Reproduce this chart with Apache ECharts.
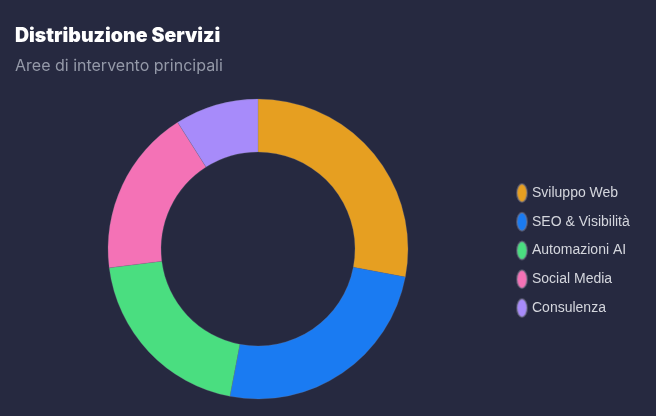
<!DOCTYPE html>
<html>
<head>
<meta charset="utf-8">
<script src="https://cdn.jsdelivr.net/npm/echarts@6/dist/echarts.min.js"></script>
<style>
	html, body { margin: 0; padding: 0; background: #262940; }
	#main { width: 656px; height: 416px; }
</style>
</head>
<body>
<div id="main"></div>
<script>
var categories = ['Sviluppo Web', 'SEO & Visibilità', 'Automazioni AI', 'Social Media', 'Consulenza'];
var values = [28, 25, 20, 18, 9];
var colors = ['#e69f21', '#1a7bf2', '#4ade80', '#f472b6', '#a78bfa'];

var pie_data = [];
for (let i in categories) {
	pie_data.push({ name: categories[i], value: values[i], itemStyle: { color: colors[i] } });
}

var chart = echarts.init(document.getElementById('main'), null, { renderer: 'canvas' });
var option = {
	backgroundColor: '#262940',
	title: {
		text: 'Distribuzione Servizi',
		subtext: 'Aree di intervento principali',
		left: 15,
		top: 26,
		padding: 0,
		itemGap: 12,
		textStyle: {
			color: '#ffffff',
			fontFamily: 'Inter',
			fontWeight: 900,
			fontSize: 19.5
		},
		subtextStyle: {
			color: '#9499a8',
			fontFamily: 'Inter',
			fontSize: 16
		}
	},
	legend: {
		orient: 'vertical',
		left: 516,
		top: 183,
		padding: 0,
		icon: 'path://M5,0 A5,9 0 1,1 5,18 A5,9 0 1,1 5,0 Z',
		itemWidth: 10,
		itemHeight: 18,
		itemGap: 8.75,
		textStyle: {
			color: '#d4d6dd',
			fontFamily: 'Liberation Sans',
			fontSize: 14
		},
		data: categories
	},
	series: [
		{
			type: 'pie',
			center: [258, 249],
			radius: [97, 150],
			startAngle: 90,
			clockwise: true,
			avoidLabelOverlap: false,
			label: { show: false },
			labelLine: { show: false },
			itemStyle: {
				borderColor: 'rgba(120,120,140,0.5)',
				borderWidth: 0.5
			},
			emphasis: { disabled: true },
			data: pie_data
		}
	]
};
chart.setOption(option);
</script>
</body>
</html>
